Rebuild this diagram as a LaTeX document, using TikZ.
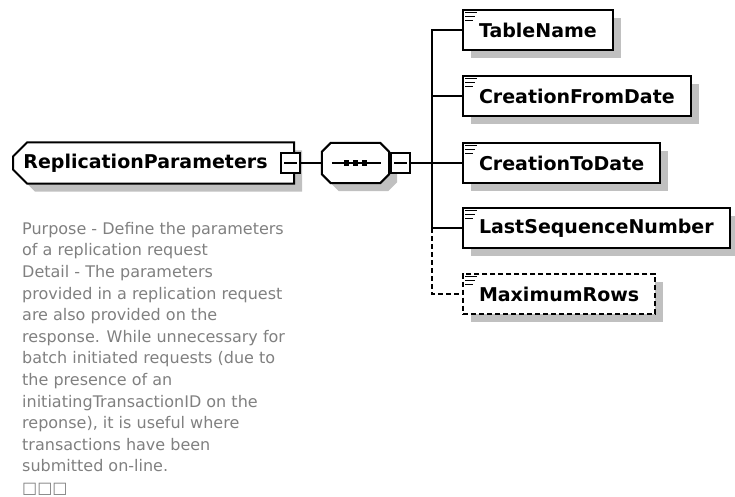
\documentclass[tikz,border=0pt]{standalone}
\usepackage{fontspec}
\setmainfont{DejaVu Sans}
\usetikzlibrary{shapes.misc,shadows}
\definecolor{shade}{RGB}{192,192,192}
\definecolor{note}{RGB}{128,128,128}
\tikzset{
  drop/.style={general shadow={fill=shade, shadow xshift=8pt, shadow yshift=-8pt}},
  box/.style={draw, line width=2pt, fill=white, minimum height=40pt, inner xsep=16pt,
    font=\bfseries\fontsize{19}{23}\selectfont, drop},
  elem/.style={box, anchor=west},
  optional/.style={dash pattern=on 5pt off 3pt},
  togglebox/.style={draw, line width=2pt, fill=white, minimum width=19pt,
    minimum height=20pt, inner sep=0pt},
  link/.style={line width=2pt},
}
\begin{document}
\begin{tikzpicture}[x=1pt, y=-1pt]
   \useasboundingbox (0,0) rectangle (735,497);
   % global element and its sequence
   \node[box, chamfered rectangle, chamfered rectangle corners={north west,south west},
     chamfered rectangle xsep=6pt, chamfered rectangle ysep=8pt, inner xsep=2pt,
     minimum width=281pt, anchor=west] (root) at (12,163) {ReplicationParameters\hspace*{16pt}};
   \node[togglebox] (rootx) at (290.5,163) {};
   \node[minimum width=67pt, minimum height=40pt, inner sep=0pt] (seq) at (355.5,163) {};
   \filldraw[link, fill=white, drop] ([shift={(9,0)}]seq.north west) -- ([shift={(-9,0)}]seq.north east)
     -- ([shift={(0,9)}]seq.north east) -- ([shift={(0,-9)}]seq.south east)
     -- ([shift={(-9,0)}]seq.south east) -- ([shift={(9,0)}]seq.south west)
     -- ([shift={(0,-9)}]seq.south west) -- ([shift={(0,9)}]seq.north west) -- cycle;
   \node[togglebox] (seqx) at (400.5,163) {};
   \draw[link] ([xshift=4pt]rootx.west) -- ([xshift=-4pt]rootx.east);
   \draw[link] ([xshift=4pt]seqx.west) -- ([xshift=-4pt]seqx.east);
   \draw[link] ([xshift=10pt]seq.west) -- ([xshift=-8pt]seq.east);
   \foreach \dx in {-9,0,9}
     \fill ([xshift=\dx pt]seq.center) ++(-2.5,-2.5) rectangle ++(5,5);

   % child elements
   \node[elem] (tn) at (462,30) {TableName};
   \node[elem] (cfd) at (462,96) {CreationFromDate};
   \node[elem] (ctd) at (462,163) {CreationToDate};
   \node[elem] (lsn) at (462,228) {LastSequenceNumber};
   \node[elem, optional] (mr) at (462,294) {MaximumRows};
   \foreach \e in {tn,cfd,ctd,lsn,mr} {
     \draw[line width=1.2pt] ([shift={(3,3.5)}]\e.north west) -- ++(12,0)
       ([shift={(3,7.5)}]\e.north west) -- ++(10,0)
       ([shift={(3,11.5)}]\e.north west) -- ++(8,0);
   }

   % connectors
   \coordinate (fork) at (432,163);
   \coordinate (last) at (fork |- lsn.west);
   \draw[link] (rootx) -- (seq);
   \draw[link] (seqx) -- (ctd);
   \draw[link] (tn.west) -| (last) -- (lsn.west);
   \draw[link] (cfd.west) -- (fork |- cfd.west);
   \draw[link, optional] (last) |- (mr.west);

   % annotation
   \node[anchor=north west, align=left, inner sep=0pt, text=note,
     font=\fontsize{16}{21.6}\selectfont] (desc) at (22,222)
     {Purpose - Define the parameters\\ of a replication request\\ Detail - The parameters\\
      provided in a replication request\\ are also provided on the\\
      response. While unnecessary for\\ batch initiated requests (due to\\
      the presence of an\\ initiatingTransactionID on the\\
      reponse), it is useful where\\ transactions have been\\ submitted on-line.\\ □□□};
\end{tikzpicture}
\end{document}
